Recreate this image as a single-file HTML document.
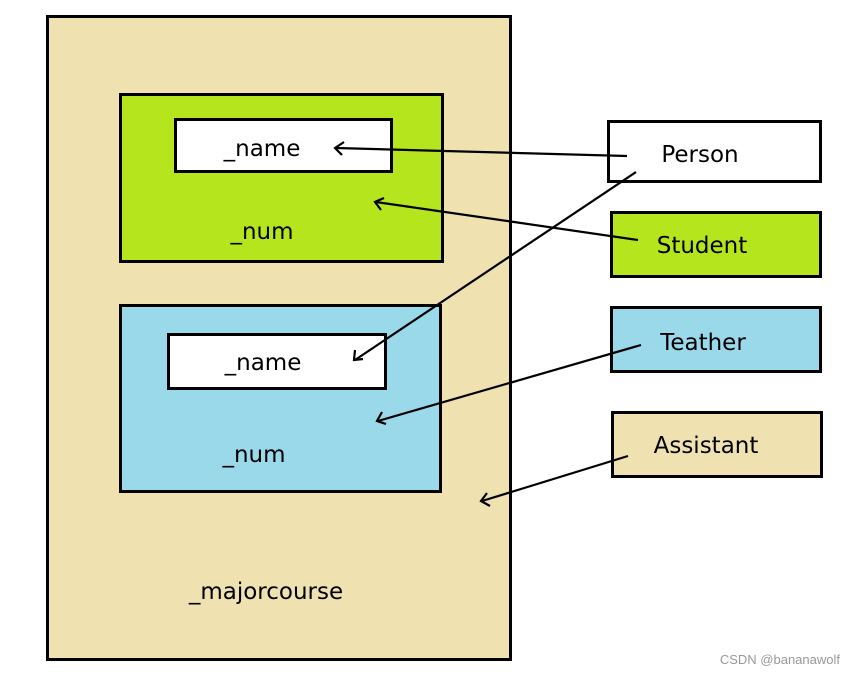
<!DOCTYPE html>
<html><head><style>html,body{margin:0;padding:0;background:#fff}svg{display:block}</style></head>
<body>
<svg width="856" height="674" xmlns="http://www.w3.org/2000/svg" font-family="'DejaVu Sans','Liberation Sans',sans-serif" font-size="23">
<g stroke="#000" stroke-width="3">
<rect x="47.5" y="16.5" width="463" height="643" fill="#efe2b0"/>
<rect x="120.5" y="94.5" width="322" height="167" fill="#b5e61d"/>
<rect x="175.5" y="119.5" width="216" height="52" fill="#fff"/>
<rect x="120.5" y="305.5" width="320" height="186" fill="#99d9ea"/>
<rect x="168.5" y="334.5" width="217" height="54" fill="#fff"/>
<rect x="608.5" y="121.5" width="212" height="60" fill="#fff"/>
<rect x="611.5" y="212.5" width="209" height="64" fill="#b5e61d"/>
<rect x="611.5" y="307.5" width="209" height="64" fill="#99d9ea"/>
<rect x="612.5" y="412.5" width="209" height="64" fill="#efe2b0"/>
</g>
<g stroke="#000" stroke-width="2.2" fill="none">
<line x1="627" y1="156" x2="336" y2="148"/><polyline points="344,142 335,148 342,155"/>
<line x1="638" y1="240" x2="376" y2="202"/><polyline points="384,198 375,202 381,210"/>
<line x1="636" y1="172" x2="355" y2="360"/><polyline points="355,350 354,360 363,359"/>
<line x1="641" y1="345" x2="378" y2="421"/><polyline points="382,412 377,421 386,424"/>
<line x1="628" y1="456" x2="482" y2="501"/><polyline points="487,493 481,501 490,506"/>
</g>
<g fill="#000" text-anchor="middle">
<text x="262" y="156">_name</text>
<text x="262" y="239">_num</text>
<text x="263" y="370">_name</text>
<text x="254" y="462">_num</text>
<text x="266" y="599">_majorcourse</text>
<text x="700" y="162">Person</text>
<text x="702" y="253">Student</text>
<text x="703" y="350">Teather</text>
<text x="706" y="453">Assistant</text>
</g>
<text x="840" y="664" font-size="13" fill="#999" text-anchor="end" font-family="'Liberation Sans',sans-serif">CSDN @bananawolf</text>
</svg>
</body></html>
